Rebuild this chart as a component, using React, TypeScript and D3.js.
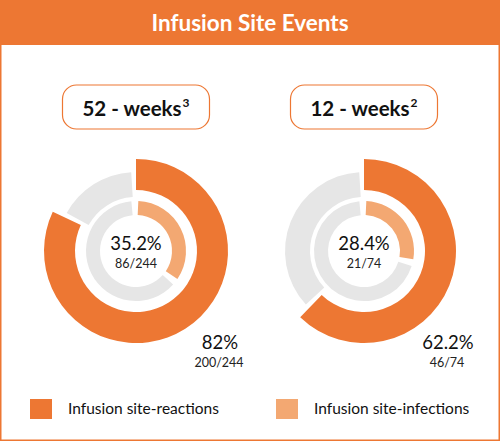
import React from "react";
import * as d3 from "d3";

const TITLE = "Infusion Site Events";
const PERIODS = ["52 - weeks", "12 - weeks"];
const SUPERSCRIPTS = ["3", "2"];
const REACTION_PCT = [82, 62.2];
const REACTION_FRAC = ["200/244", "46/74"];
const INFECTION_PCT = [35.2, 28.4];
const INFECTION_FRAC = ["86/244", "21/74"];
const LEGEND = ["Infusion site-reactions", "Infusion site-infections"];

const ORANGE = "#ED7733";
const LIGHT = "#F3A872";
const GREY = "#E6E6E6";
const FONT = "Lato, 'Open Sans', sans-serif";

const W = 500;
const H = 441;

export default function App() {
  const x = d3.scalePoint<number>().domain([0, 1]).range([136, 364]);
  const cy = 251;
  const ang = d3.scaleLinear().domain([0, 100]).range([0, 2 * Math.PI]);

  const orangeArc = d3.arc<any>().innerRadius(61).outerRadius(92);
  const greyOuterArc = d3.arc<any>().innerRadius(54).outerRadius(79);
  const innerArc = d3.arc<any>().innerRadius(36).outerRadius(50);

  const gOut = 4 / 66;
  const gIn1 = 2 / 43;
  const gIn2 = 4 / 43;

  return (
    <svg
      width={W}
      height={H}
      style={{ position: "absolute", left: 0, top: 0 }}
      fontFamily={FONT}
    >
      <rect x={0.75} y={0.75} width={W - 1.5} height={H - 1.5} fill="#fff" stroke={ORANGE} strokeWidth={1.5} />
      <rect x={0} y={0} width={W} height={45} fill={ORANGE} />
      <text x={W / 2} y={31} textAnchor="middle" fill="#fff" fontWeight={700} fontSize={22.5}>
        {TITLE}
      </text>

      {PERIODS.map((p, i) => {
        const cx = x(i)!;
        const r = REACTION_PCT[i];
        const f = INFECTION_PCT[i];
        return (
          <g key={p}>
            <rect x={cx - 73.5} y={85} width={147} height={44} rx={14} fill="#fff" stroke={ORANGE} strokeWidth={1.2} />
            <text x={cx} y={116} textAnchor="middle" fontWeight={700} fontSize={20.5} fill="#111">
              {p}
              <tspan fontSize={12} dx={1} dy={-9}>{SUPERSCRIPTS[i]}</tspan>
            </text>
            <g transform={`translate(${cx},${cy})`}>
              <path
                d={greyOuterArc({ startAngle: ang(r) + gOut, endAngle: ang(100) - gOut }) || ""}
                fill={GREY}
              />
              <path d={orangeArc({ startAngle: ang(0), endAngle: ang(r) }) || ""} fill={ORANGE} />
              <path
                d={innerArc({ startAngle: ang(f) + gIn2, endAngle: ang(100) - gIn2 }) || ""}
                fill={GREY}
              />
              <path
                d={innerArc({ startAngle: ang(0) + gIn1, endAngle: ang(f) - gIn1 }) || ""}
                fill={LIGHT}
              />
              <text y={-1} textAnchor="middle" fontSize={18.5} fill="#111">
                {`${f}%`}
              </text>
              <text y={17} textAnchor="middle" fontSize={12.5} fill="#222">
                {INFECTION_FRAC[i]}
              </text>
              <text x={84} y={98} textAnchor="middle" fontSize={18.5} fill="#111">
                {`${r}%`}
              </text>
              <text x={83} y={116} textAnchor="middle" fontSize={12.5} fill="#222">
                {REACTION_FRAC[i]}
              </text>
            </g>
          </g>
        );
      })}

      {LEGEND.map((l, i) => {
        const lx = [30, 276][i];
        return (
          <g key={l}>
            <rect x={lx} y={399} width={22} height={20} fill={i === 0 ? ORANGE : LIGHT} />
            <text x={lx + 38} y={414} fontSize={15.5} fill="#111">
              {l}
            </text>
          </g>
        );
      })}
    </svg>
  );
}
